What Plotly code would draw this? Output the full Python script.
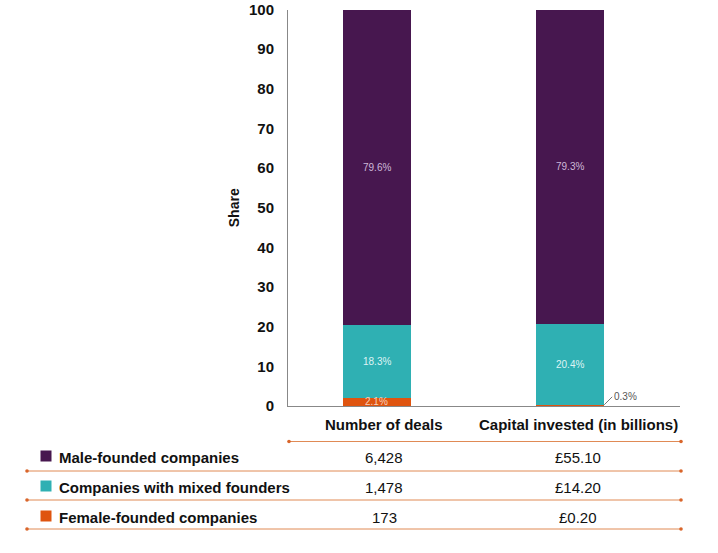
import plotly.graph_objects as go

W, H = 718, 553
categories = ["Number of deals", "Capital invested (in billions)"]
series_names = ["Female-founded companies", "Companies with mixed founders", "Male-founded companies"]
female_share = [2.1, 0.3]
mixed_share = [18.3, 20.4]
male_share = [79.6, 79.3]
colors = ["#df540f", "#2fb0b3", "#47174f"]
label_colors = ["#f6d2bf", "#dff3f3", "#cdb9d9"]

table_rows = ["Male-founded companies", "Companies with mixed founders", "Female-founded companies"]
table_colors = ["#47174f", "#2fb0b3", "#df540f"]
deals_values = ["6,428", "1,478", "173"]
capital_values = ["£55.10", "£14.20", "£0.20"]
y_ticks = [0, 10, 20, 30, 40, 50, 60, 70, 80, 90, 100]

FONT = "Liberation Sans, Arial, sans-serif"
xpos = [0, 1]
bar_w = 0.355

fig = go.Figure()
shares = [female_share, mixed_share, male_share]
for name, vals, c in zip(series_names, shares, colors):
    fig.add_trace(go.Bar(x=xpos, y=vals, name=name, marker=dict(color=c, line=dict(width=0)),
                         width=bar_w, showlegend=False, hoverinfo="skip"))


def px(x):
    return x / W


def py(y):
    return 1 - y / H


annotations = []
for i in range(2):
    base = 0
    for k, vals in enumerate(shares):
        v = vals[i]
        if v >= 1:
            annotations.append(dict(x=xpos[i], y=base + v / 2, xref="x", yref="y", text=f"{v}%",
                                    xanchor="center", yanchor="middle", showarrow=False,
                                    font=dict(family=FONT, size=10, color=label_colors[k])))
        base += v
annotations.append(dict(x=xpos[1] + bar_w / 2, y=female_share[1], xref="x", yref="y",
                        text=f"{female_share[1]}%", showarrow=True, arrowhead=0, arrowwidth=1,
                        arrowcolor="#777", ax=8, ay=-8, xanchor="left", yanchor="middle",
                        font=dict(family=FONT, size=10, color="#555")))

col_x = [384, 578]
for cx, cat in zip(col_x, categories):
    annotations.append(dict(x=px(cx), y=py(424), xref="paper", yref="paper", text=f"<b>{cat}</b>",
                            xanchor="center", yanchor="middle", showarrow=False,
                            font=dict(family=FONT, size=15, color="#111")))
row_y = [457, 487, 517]
for ry, name, dv, cv in zip(row_y, table_rows, deals_values, capital_values):
    annotations.append(dict(x=px(57), y=py(ry), xref="paper", yref="paper", text=f"<b>{name}</b>",
                            xanchor="left", yanchor="middle", showarrow=False,
                            font=dict(family=FONT, size=15, color="#111")))
    annotations.append(dict(x=px(col_x[0]), y=py(ry), xref="paper", yref="paper", text=dv,
                            xanchor="center", yanchor="middle", showarrow=False,
                            font=dict(family=FONT, size=15, color="#111")))
    annotations.append(dict(x=px(col_x[1]), y=py(ry), xref="paper", yref="paper", text=cv,
                            xanchor="center", yanchor="middle", showarrow=False,
                            font=dict(family=FONT, size=15, color="#111")))

shapes = []
for ry, c in zip(row_y, table_colors):
    shapes.append(dict(type="rect", xref="paper", yref="paper", x0=px(40.5), x1=px(51.5),
                       y0=py(ry + 4.5), y1=py(ry - 6.5), fillcolor=c, line=dict(width=0)))
line_color = "#e08a55"
x_end = 681
for ly, x0 in [(441.5, 289), (471, 27), (500, 27), (529, 27)]:
    shapes.append(dict(type="line", xref="paper", yref="paper", x0=px(x0), x1=px(x_end), y0=py(ly), y1=py(ly),
                       line=dict(color=line_color, width=1)))
    for xx in (x0, x_end):
        shapes.append(dict(type="circle", xref="paper", yref="paper", x0=px(xx - 1.8), x1=px(xx + 1.8),
                           y0=py(ly + 1.8), y1=py(ly - 1.8), fillcolor="#d9652a", line=dict(width=0)))

fig.update_layout(
    template="none",
    width=W, height=H, margin=dict(l=0, r=0, t=0, b=0, pad=0),
    paper_bgcolor="white", plot_bgcolor="white", barmode="stack",
    font=dict(family=FONT, color="#111"),
    xaxis=dict(domain=[px(288), px(680)], range=[-0.46, 1.57], showticklabels=False, showgrid=False,
               automargin=False, zeroline=False, showline=True, linecolor="#888", linewidth=1, ticks=""),
    yaxis=dict(domain=[py(406), py(9.5)], range=[0, 100], tickvals=y_ticks, automargin=False,
               ticktext=[f"<b>{t}</b>" for t in y_ticks], tickfont=dict(family=FONT, size=15, color="#111"),
               showgrid=False, zeroline=False, showline=True, linecolor="#888", linewidth=1, ticks="",
               ticklabelstandoff=10,
               title=dict(text="<b>Share</b>", font=dict(family=FONT, size=14, color="#111"), standoff=6)),
    annotations=annotations, shapes=shapes,
)

fig.write_html("out.html", config={"displayModeBar": False},
               post_script="document.body.style.margin='0';document.body.style.padding='0';")
